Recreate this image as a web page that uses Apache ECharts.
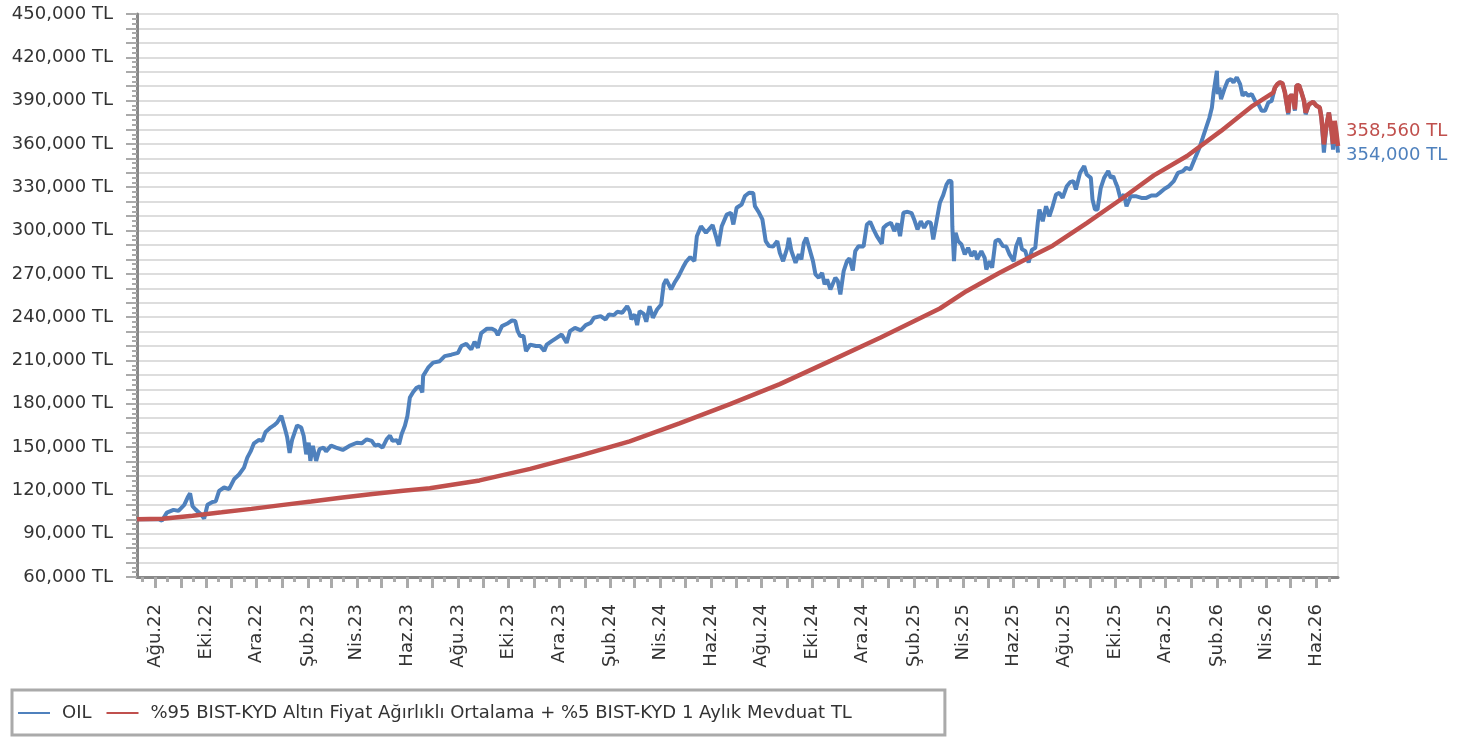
<!DOCTYPE html>
<html>
<head>
<meta charset="utf-8">
<title>OIL</title>
<script src="https://cdn.jsdelivr.net/npm/echarts@6/dist/echarts.min.js"></script>
<style>
html, body { margin: 0; padding: 0; background: #fff; }
#chart { width: 1467px; height: 740px; }
</style>
</head>
<body>
<div id="chart"></div>
<script>
// axis range (daily categories)
const startDate = '2022-07-10';
const endDate = '2026-06-27';
const monthNames = ['Oca', 'Şub', 'Mar', 'Nis', 'May', 'Haz', 'Tem', 'Ağu', 'Eyl', 'Eki', 'Kas', 'Ara'];

const oilName = 'OIL';
const benchName = '%95 BIST-KYD Altın Fiyat Ağırlıklı Ortalama + %5 BIST-KYD 1 Aylık Mevduat TL';

// OIL (blue)
const oilData = [
  ['2022-07-10', 100000], ['2022-08-05', 100000], ['2022-08-09', 99000], ['2022-08-15', 104600],
  ['2022-08-23', 106500], ['2022-08-29', 105800], ['2022-09-05', 110000], ['2022-09-09', 115000],
  ['2022-09-12', 118000], ['2022-09-15', 109000], ['2022-09-19', 106500], ['2022-09-25', 103500],
  ['2022-09-29', 100500], ['2022-10-03', 110000], ['2022-10-09', 112000], ['2022-10-13', 112500],
  ['2022-10-17', 119600], ['2022-10-23', 122000], ['2022-10-29', 120800], ['2022-11-04', 127700],
  ['2022-11-10', 131000], ['2022-11-16', 135800], ['2022-11-20', 142700], ['2022-11-24', 147000],
  ['2022-11-28', 152600], ['2022-12-04', 155000], ['2022-12-08', 154300], ['2022-12-12', 160500],
  ['2022-12-18', 163500], ['2022-12-22', 165000], ['2022-12-26', 167000], ['2022-12-31', 171600],
  ['2023-01-04', 163500], ['2023-01-07', 157000], ['2023-01-10', 146000], ['2023-01-13', 155000],
  ['2023-01-16', 160000], ['2023-01-19', 165000], ['2023-01-24', 163500], ['2023-01-27', 157700],
  ['2023-01-30', 145000], ['2023-02-02', 153000], ['2023-02-04', 140400], ['2023-02-07', 150800],
  ['2023-02-11', 140400], ['2023-02-15', 148500], ['2023-02-20', 149600], ['2023-02-23', 147000],
  ['2023-03-01', 151000], ['2023-03-07', 149600], ['2023-03-15', 148000], ['2023-03-23', 150800],
  ['2023-04-01', 153000], ['2023-04-07', 152600], ['2023-04-13', 155400], ['2023-04-19', 154300],
  ['2023-04-23', 151000], ['2023-04-27', 151700], ['2023-05-02', 149600], ['2023-05-07', 155400],
  ['2023-05-11', 158000], ['2023-05-14', 154300], ['2023-05-19', 154800], ['2023-05-22', 152000],
  ['2023-05-25', 158900], ['2023-05-29', 164700], ['2023-06-01', 171600], ['2023-06-04', 184300],
  ['2023-06-08', 188200], ['2023-06-12', 191000], ['2023-06-16', 192000], ['2023-06-19', 187800],
  ['2023-06-20', 199300], ['2023-06-26', 205000], ['2023-07-02', 208500], ['2023-07-10', 209500],
  ['2023-07-16', 213000], ['2023-07-24', 214000], ['2023-08-01', 215300], ['2023-08-05', 220000],
  ['2023-08-11', 221500], ['2023-08-17', 217600], ['2023-08-21', 223000], ['2023-08-25', 218800],
  ['2023-08-29', 229000], ['2023-09-05', 232000], ['2023-09-11', 232000], ['2023-09-15', 230800],
  ['2023-09-18', 227500], ['2023-09-23', 233800], ['2023-09-29', 235400], ['2023-10-05', 237700],
  ['2023-10-09', 237300], ['2023-10-12', 230300], ['2023-10-15', 226900], ['2023-10-19', 227000],
  ['2023-10-22', 216500], ['2023-10-27', 221000], ['2023-11-03', 220000], ['2023-11-08', 220000],
  ['2023-11-13', 216500], ['2023-11-16', 221000], ['2023-11-22', 223400], ['2023-11-28', 225700],
  ['2023-12-04', 228000], ['2023-12-10', 222200], ['2023-12-14', 230300], ['2023-12-20', 232600],
  ['2023-12-27', 230800], ['2024-01-02', 234500], ['2024-01-08', 236000], ['2024-01-12', 239600],
  ['2024-01-20', 240700], ['2024-01-26', 238400], ['2024-01-30', 241900], ['2024-02-05', 241400],
  ['2024-02-09', 243700], ['2024-02-15', 243000], ['2024-02-21', 247600], ['2024-02-24', 244200],
  ['2024-02-26', 238400], ['2024-03-01', 241900], ['2024-03-04', 234500], ['2024-03-07', 244200],
  ['2024-03-12', 242300], ['2024-03-15', 236800], ['2024-03-19', 247600], ['2024-03-23', 239600],
  ['2024-03-28', 245300], ['2024-04-02', 248800], ['2024-04-05', 262700], ['2024-04-08', 266100],
  ['2024-04-14', 259200], ['2024-04-18', 263800], ['2024-04-23', 268400], ['2024-04-28', 274200],
  ['2024-05-02', 278400], ['2024-05-07', 281600], ['2024-05-12', 278800], ['2024-05-15', 296100],
  ['2024-05-20', 303000], ['2024-05-26', 298500], ['2024-06-03', 303800], ['2024-06-07', 296000],
  ['2024-06-10', 289200], ['2024-06-14', 303000], ['2024-06-20', 311000], ['2024-06-25', 312300],
  ['2024-06-28', 304200], ['2024-07-02', 315800], ['2024-07-08', 318000], ['2024-07-12', 323900],
  ['2024-07-17', 326200], ['2024-07-22', 326000], ['2024-07-24', 316900], ['2024-07-29', 312300],
  ['2024-08-02', 307700], ['2024-08-06', 292700], ['2024-08-10', 289200], ['2024-08-15', 289000],
  ['2024-08-20', 292700], ['2024-08-23', 284600], ['2024-08-27', 278800], ['2024-09-01', 288000],
  ['2024-09-03', 295000], ['2024-09-06', 285800], ['2024-09-11', 277700], ['2024-09-15', 283500],
  ['2024-09-18', 280000], ['2024-09-21', 291500], ['2024-09-24', 295000], ['2024-09-28', 286900],
  ['2024-10-02', 278800], ['2024-10-05', 269600], ['2024-10-09', 267300], ['2024-10-13', 270700],
  ['2024-10-16', 262700], ['2024-10-19', 266100], ['2024-10-23', 259200], ['2024-10-29', 267300],
  ['2024-11-01', 265000], ['2024-11-04', 255700], ['2024-11-08', 271900], ['2024-11-12', 278800],
  ['2024-11-15', 280700], ['2024-11-19', 272400], ['2024-11-22', 285800], ['2024-11-26', 289200],
  ['2024-12-02', 289000], ['2024-12-06', 304200], ['2024-12-10', 306100], ['2024-12-14', 300800],
  ['2024-12-18', 296100], ['2024-12-24', 290800], ['2024-12-26', 301900], ['2024-12-30', 304000],
  ['2025-01-04', 305400], ['2025-01-08', 299600], ['2025-01-12', 305000], ['2025-01-15', 296100],
  ['2025-01-19', 312300], ['2025-01-24', 313000], ['2025-01-29', 312000], ['2025-02-01', 307700],
  ['2025-02-05', 300800], ['2025-02-09', 306500], ['2025-02-13', 301900], ['2025-02-17', 306000],
  ['2025-02-21', 305400], ['2025-02-24', 293800], ['2025-02-28', 306500], ['2025-03-04', 319200],
  ['2025-03-08', 324500], ['2025-03-12', 331900], ['2025-03-15', 334600], ['2025-03-18', 334000],
  ['2025-03-19', 303000], ['2025-03-21', 278800], ['2025-03-23', 298500], ['2025-03-26', 292700],
  ['2025-03-30', 290400], ['2025-04-03', 283500], ['2025-04-07', 288000], ['2025-04-11', 282300],
  ['2025-04-15', 285800], ['2025-04-18', 280000], ['2025-04-23', 285800], ['2025-04-27', 281100],
  ['2025-04-29', 273000], ['2025-05-03', 278800], ['2025-05-06', 274200], ['2025-05-10', 292700],
  ['2025-05-14', 293800], ['2025-05-19', 289200], ['2025-05-23', 289000], ['2025-05-27', 283500],
  ['2025-06-01', 278800], ['2025-06-04', 289200], ['2025-06-08', 295000], ['2025-06-11', 287000],
  ['2025-06-15', 285800], ['2025-06-19', 277800], ['2025-06-23', 286700], ['2025-06-27', 287900],
  ['2025-06-30', 305200], ['2025-07-02', 314500], ['2025-07-06', 306400], ['2025-07-10', 316800],
  ['2025-07-14', 309900], ['2025-07-18', 316800], ['2025-07-22', 325000], ['2025-07-26', 326100],
  ['2025-07-30', 322600], ['2025-08-04', 330700], ['2025-08-08', 333500], ['2025-08-12', 334200],
  ['2025-08-15', 328400], ['2025-08-20', 340000], ['2025-08-25', 344600], ['2025-08-28', 338800],
  ['2025-09-02', 336500], ['2025-09-04', 321500], ['2025-09-07', 314500], ['2025-09-10', 314500],
  ['2025-09-14', 329600], ['2025-09-18', 336500], ['2025-09-23', 341200], ['2025-09-26', 336500],
  ['2025-09-29', 337700], ['2025-10-02', 333000], ['2025-10-04', 330300], ['2025-10-08', 321500],
  ['2025-10-12', 325000], ['2025-10-15', 316800], ['2025-10-20', 323800], ['2025-10-26', 323800],
  ['2025-11-02', 322600], ['2025-11-08', 322600], ['2025-11-14', 324300], ['2025-11-20', 324300],
  ['2025-11-24', 326100], ['2025-11-30', 328900], ['2025-12-05', 330700], ['2025-12-11', 334200],
  ['2025-12-16', 340000], ['2025-12-22', 341200], ['2025-12-26', 343500], ['2025-12-31', 342300],
  ['2026-01-05', 349300], ['2026-01-11', 357400], ['2026-01-15', 364300], ['2026-01-19', 371300],
  ['2026-01-23', 378300], ['2026-01-26', 385200], ['2026-01-28', 395600], ['2026-02-01', 410700],
  ['2026-02-02', 394500], ['2026-02-04', 399100], ['2026-02-06', 391000], ['2026-02-10', 398000],
  ['2026-02-14', 403700], ['2026-02-18', 404900], ['2026-02-21', 402600], ['2026-02-25', 406100],
  ['2026-03-01', 401400], ['2026-03-04', 393300], ['2026-03-07', 395600], ['2026-03-11', 393300],
  ['2026-03-15', 394500], ['2026-03-19', 389800], ['2026-03-23', 387500], ['2026-03-27', 382900],
  ['2026-03-31', 382900], ['2026-04-04', 388700], ['2026-04-08', 389800], ['2026-04-12', 399100],
  ['2026-04-15', 401400], ['2026-04-18', 402600], ['2026-04-21', 402000], ['2026-04-24', 395600],
  ['2026-04-28', 380500], ['2026-04-30', 393300], ['2026-05-04', 393300], ['2026-05-06', 383000],
  ['2026-05-08', 400300], ['2026-05-11', 400700], ['2026-05-14', 395600], ['2026-05-17', 389800],
  ['2026-05-19', 380500], ['2026-05-23', 387500], ['2026-05-28', 389100], ['2026-06-01', 386400],
  ['2026-06-05', 385200], ['2026-06-07', 378300], ['2026-06-10', 354000], ['2026-06-13', 372500],
  ['2026-06-16', 381700], ['2026-06-19', 370200], ['2026-06-21', 356000], ['2026-06-23', 375000],
  ['2026-06-25', 366000], ['2026-06-27', 354000]
];

// benchmark (red)
const benchData = [
  ['2022-07-10', 100000], ['2022-08-10', 100300], ['2022-09-15', 102500], ['2022-10-20', 104800],
  ['2022-11-25', 107200], ['2022-12-31', 109800], ['2023-02-05', 112300], ['2023-03-15', 115000],
  ['2023-04-20', 117500], ['2023-05-27', 119800], ['2023-06-28', 121500], ['2023-08-27', 126900],
  ['2023-10-27', 134900], ['2023-12-26', 144100], ['2024-02-24', 154000], ['2024-04-24', 166400],
  ['2024-06-24', 179800], ['2024-08-23', 193600], ['2024-10-23', 209700], ['2024-12-22', 225700],
  ['2025-03-04', 246000], ['2025-04-05', 258000], ['2025-05-15', 270700], ['2025-06-15', 280000],
  ['2025-07-18', 289500], ['2025-08-28', 305200], ['2025-10-08', 321500], ['2025-11-17', 338200],
  ['2025-12-27', 351600], ['2026-02-06', 369000], ['2026-03-16', 386400], ['2026-04-10', 395600],
  ['2026-04-12', 399100], ['2026-04-15', 401400], ['2026-04-18', 402600], ['2026-04-21', 402000],
  ['2026-04-24', 395600], ['2026-04-28', 381700], ['2026-04-30', 393300], ['2026-05-04', 393300],
  ['2026-05-06', 384000], ['2026-05-08', 400300], ['2026-05-11', 400700], ['2026-05-14', 395600],
  ['2026-05-17', 389800], ['2026-05-19', 381700], ['2026-05-23', 387500], ['2026-05-28', 389100],
  ['2026-06-01', 386400], ['2026-06-05', 385200], ['2026-06-07', 378300], ['2026-06-10', 359700],
  ['2026-06-13', 372500], ['2026-06-16', 381700], ['2026-06-19', 370200], ['2026-06-21', 360000],
  ['2026-06-23', 376000], ['2026-06-25', 368000], ['2026-06-27', 358560]
];

// y axis
const yMin = 60000;
const yMax = 450000;
const yStep = 10000;
const yLabelStep = 30000;

// build the daily categories
const days = [];
let t = Date.parse(startDate + 'T00:00:00Z');
const tEnd = Date.parse(endDate + 'T00:00:00Z');
while (t <= tEnd) {
  days.push(new Date(t).toISOString().slice(0, 10));
  t += 86400000;
}

const fmt = (v) => v.toLocaleString('en-US') + ' TL';
const FONT = 'DejaVu Sans';
const FS = 18;

const chart = echarts.init(document.getElementById('chart'));
const option = {
  animation: false,
  grid: {
    left: 137, right: 129, top: 14, bottom: 163,
    show: true, borderColor: '#d0d0d0', borderWidth: 1
  },
  legend: {
    left: 12, top: 690,
    padding: [14, 93, 13, 6],
    borderColor: '#aaaaaa',
    borderWidth: 3,
    itemWidth: 32,
    itemHeight: 2,
    itemGap: 15,
    icon: 'rect',
    textStyle: { fontFamily: FONT, fontSize: FS, color: '#333', padding: [0, 0, 0, 7] },
    data: [oilName, benchName]
  },
  xAxis: [
    {
      type: 'category',
      data: days,
      boundaryGap: false,
      axisLine: { lineStyle: { color: '#888', width: 3 } },
      axisTick: {
        interval: (i, v) => v.slice(8) === '01',
        length: 11,
        lineStyle: { color: '#aaa', width: 3 }
      },
      axisLabel: {
        interval: (i, v) => v.slice(8) === '01' && Number(v.slice(5, 7)) % 2 === 0,
        formatter: (v) => monthNames[Number(v.slice(5, 7)) - 1] + '.' + v.slice(2, 4),
        rotate: 90,
        margin: 27,
        fontFamily: FONT,
        fontSize: FS,
        color: '#333'
      },
      splitLine: { show: false }
    },
    {
      type: 'category',
      data: days,
      boundaryGap: false,
      position: 'bottom',
      offset: 0,
      axisLine: { show: false },
      axisTick: {
        interval: (i, v) => v.slice(8) === '16',
        length: 5,
        lineStyle: { color: '#aaa', width: 3 }
      },
      axisLabel: { show: false },
      splitLine: { show: false }
    }
  ],
  yAxis: {
    type: 'value',
    min: yMin,
    max: yMax,
    interval: yStep,
    axisLine: { show: true, lineStyle: { color: '#888', width: 3 } },
    axisTick: { show: true, length: 11, lineStyle: { color: '#aaa', width: 2 } },
    minorTick: { show: true, splitNumber: 3, length: 5, lineStyle: { color: '#aaa', width: 2 } },
    axisLabel: {
      formatter: (v) => (v % yLabelStep === 0 ? fmt(v) : ''),
      margin: 24,
      fontFamily: FONT,
      fontSize: FS,
      color: '#333'
    },
    splitLine: { lineStyle: { color: '#dddddd', width: 2 } }
  },
  series: [
    {
      name: oilName,
      type: 'line',
      data: oilData,
      showSymbol: false,
      symbol: 'none',
      color: '#4f81bd',
      lineStyle: { width: 4, color: '#4f81bd' },
      endLabel: {
        show: true,
        formatter: (p) => fmt(p.value[1]),
        offset: [2, 3],
        distance: 6,
        fontFamily: FONT,
        fontSize: FS,
        color: '#4f81bd'
      },
      z: 2
    },
    {
      name: benchName,
      type: 'line',
      data: benchData,
      showSymbol: false,
      symbol: 'none',
      color: '#c0504d',
      lineStyle: { width: 4.5, color: '#c0504d' },
      endLabel: {
        show: true,
        formatter: (p) => fmt(p.value[1]),
        offset: [2, -15],
        distance: 6,
        fontFamily: FONT,
        fontSize: FS,
        color: '#c0504d'
      },
      z: 3
    }
  ]
};
chart.setOption(option);
</script>
</body>
</html>
